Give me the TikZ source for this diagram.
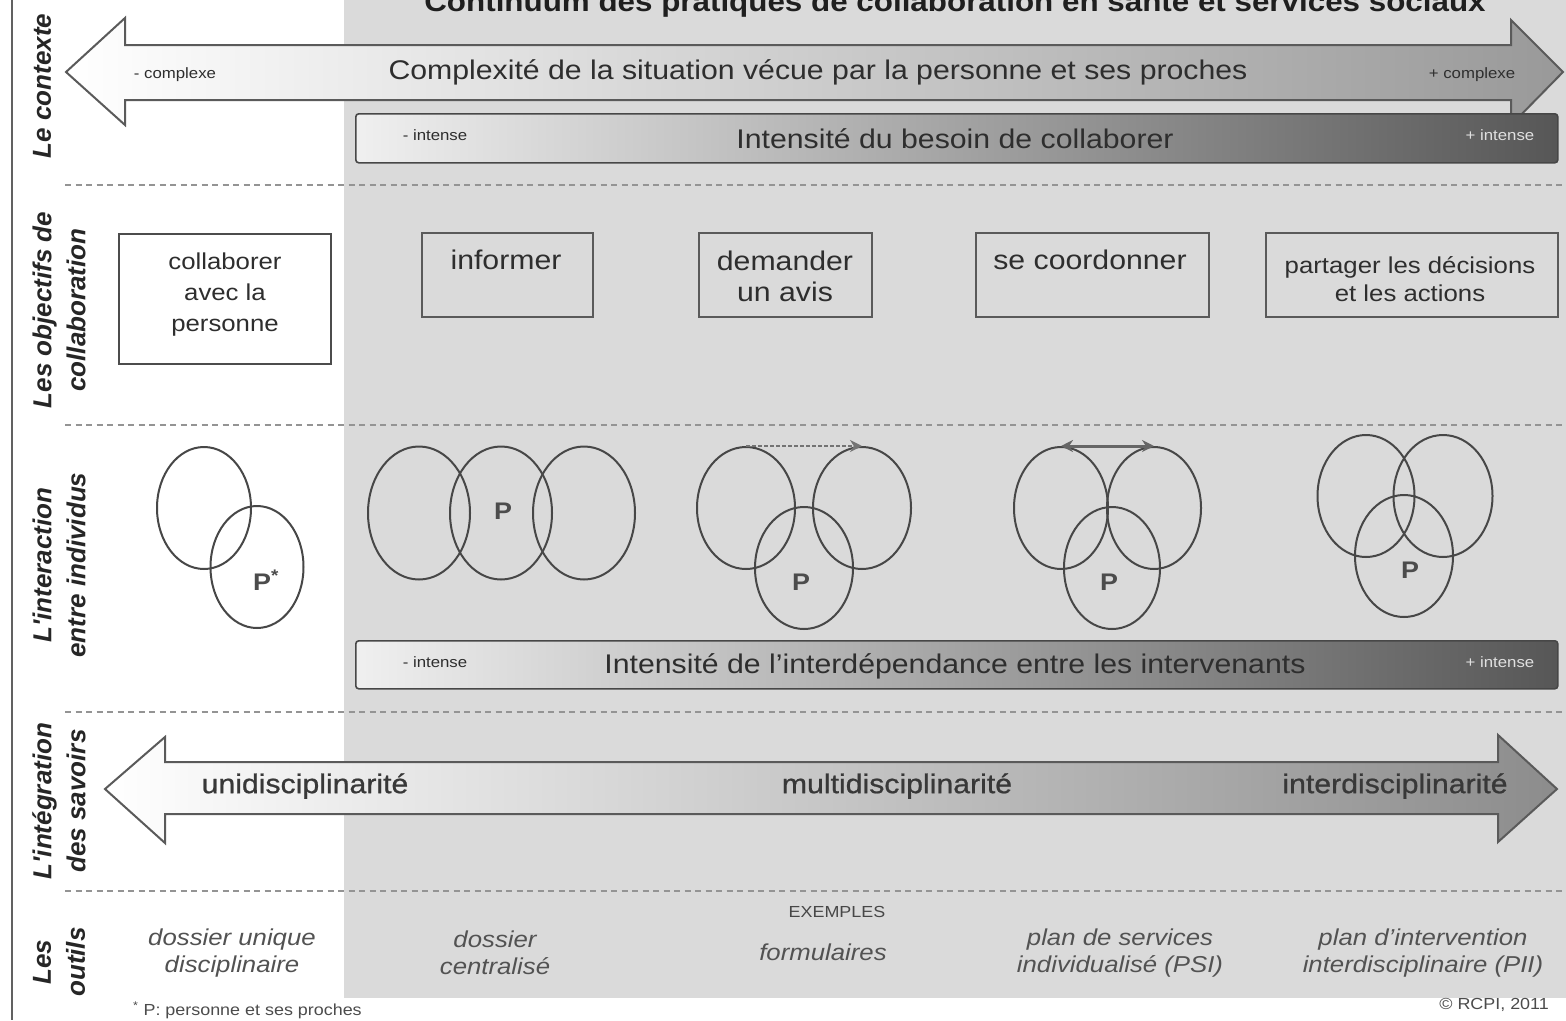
\documentclass[tikz,border=0pt]{standalone}
\usepackage{fontspec}
\setmainfont{Liberation Sans}[FakeStretch=1.12]
\newfontfamily\labelfont{Liberation Sans}
\newfontfamily\medfont{Liberation Sans}[FakeStretch=1.12,FakeBold=0.8]
\usetikzlibrary{arrows.meta,shapes.geometric}
\definecolor{bgray}{HTML}{DADADA}
\definecolor{txt}{HTML}{2E2E2E}
\definecolor{edge}{HTML}{5A5A5A}
\newcommand{\fsz}[2]{\fontsize{#1}{#2}\selectfont}
\begin{document}
\begin{tikzpicture}[x=1pt,y=-1pt,
  sepline/.style={draw=black!42, line width=2.6pt, dash pattern=on 6pt off 4.5pt},
  objbox/.style={draw=edge, line width=2pt, fill=bgray, anchor=north west, inner sep=0pt},
  objtxt/.style={font=\fsz{27}{31}, text=txt, align=center, inner sep=0pt},
  ell/.style={draw=black!72, line width=2pt, ellipse, inner sep=0pt},
  bigarrow/.style={draw=edge, line width=2pt},
  barbox/.style={draw=black!72, line width=1.6pt, rounded corners=3pt, anchor=north west, inner sep=0pt,
     left color=black!6, right color=black!66},
  bartxt/.style={font=\fsz{27}{32}, text=txt, inner sep=0pt},
  medtxt/.style={font=\medfont\fsz{27}{32}, text=black!78, inner sep=0pt},
  smalltxt/.style={font=\fsz{15}{18}, text=txt, inner sep=0pt},
  sidelab/.style={rotate=90, align=center, text=black!85, inner sep=0pt},
  tooltxt/.style={font=\fsz{23}{27}\itshape, text=black!68, align=center, inner sep=0pt},
  plab/.style={font=\fsz{24}{28}\bfseries, text=black!70, inner sep=0pt},
  tipstyle/.style={-{Stealth[length=12pt,width=12pt]}},
]
\useasboundingbox (0,0) rectangle (1566,1020);
\clip (0,0) rectangle (1566,1020);
\fill[white] (0,0) rectangle (1566,1020);
\fill[bgray] (344,0) rectangle (1566,998);
\draw[line width=2.5pt, black!62] (12,0) -- (12,1020);

% title (cut at top, as in the reference)
\node[anchor=base, font=\fsz{28}{32}\bfseries, text=black!88, inner sep=0pt] (title) at (955,11)
  {Continuum des pratiques de collaboration en santé et services sociaux};

% separators
\draw[sepline] (65,185) -- (1566,185);
\draw[sepline] (65,425) -- (1566,425);
\draw[sepline] (65,712) -- (1566,712);
\draw[sepline] (65,891) -- (1566,891);

% side labels
\node[sidelab, font=\labelfont\fsz{26}{34}\bfseries\itshape] (lab1) at (42,86) {Le contexte};
\node[sidelab, font=\labelfont\fsz{26}{34}\bfseries\itshape] (lab2) at (59,310)
  {Les objectifs de\\ collaboration};
\node[sidelab, font=\labelfont\fsz{26}{34}\bfseries\itshape] (lab3) at (59,565)
  {L'interaction\\ entre individus};
\node[sidelab, font=\labelfont\fsz{26}{34}\bfseries\itshape] (lab4) at (59,801)
  {L'intégration\\ des savoirs};
\node[sidelab, font=\labelfont\fsz{26}{34}\bfseries\itshape] (lab5) at (59,962)
  {Les\\ outils};

% top double arrow
\path[bigarrow, left color=white, right color=black!40]
  (66,72) -- (125,18) -- (125,45) -- (1511,45) -- (1511,20) -- (1563,72)
  -- (1511,125) -- (1511,100) -- (125,100) -- (125,125) -- cycle;
\node[smalltxt] (c1) at (175,75) {- complexe};
\node[bartxt] (c2) at (818,72) {Complexité de la situation vécue par la personne et ses proches};
\node[smalltxt] (c3) at (1472,75) {+ complexe};

% bar 1
\node[barbox, minimum width=1202pt, minimum height=49pt] (bar1) at (355,113) {};
\node[smalltxt] (b1a) at (435,135) {- intense};
\node[bartxt] (b1b) at (955,139) {Intensité du besoin de collaborer};
\node[smalltxt, text=black!12] (b1c) at (1500,135) {+ intense};

% objective boxes
\node[objbox, draw=black!70, fill=white, minimum width=212pt, minimum height=130pt] (o1) at (118,233) {};
\node[objtxt, font=\fsz{23}{31}] (o1t) at (225,295) {collaborer\\avec la\\personne};
\node[objbox, minimum width=171pt, minimum height=84pt] (o2) at (421,232) {};
\node[objtxt] (o2t) at (506,260) {informer};
\node[objbox, minimum width=173pt, minimum height=84pt] (o3) at (698,232) {};
\node[objtxt] (o3t) at (785,276) {demander\\un avis};
\node[objbox, minimum width=233pt, minimum height=84pt] (o4) at (975,232) {};
\node[objtxt] (o4t) at (1090,260) {se coordonner};
\node[objbox, minimum width=292pt, minimum height=84pt] (o5) at (1265,232) {};
\node[objtxt, font=\fsz{23}{28}] (o5t) at (1410,279) {partager les décisions\\et les actions};

% interaction ellipses
\node[ell, minimum width=94pt, minimum height=122pt] (e1a) at (204,508) {};
\node[ell, minimum width=93pt, minimum height=122pt] (e1b) at (257,567) {};
\node[plab] (p1) at (266,580) {P\textsuperscript{*}};

\node[ell, minimum width=102pt, minimum height=133pt] (e2a) at (419,513) {};
\node[ell, minimum width=102pt, minimum height=133pt] (e2b) at (501,513) {};
\node[ell, minimum width=102pt, minimum height=133pt] (e2c) at (584,513) {};
\node[plab] (p2) at (503,511) {P};

\node[ell, minimum width=98pt, minimum height=122pt] (e3a) at (746,508) {};
\node[ell, minimum width=98pt, minimum height=122pt] (e3b) at (862,508) {};
\node[ell, minimum width=98pt, minimum height=122pt] (e3c) at (804,568) {};
\node[plab] (p3) at (801,582) {P};
\draw[tipstyle, draw=black!55, line width=2pt, dash pattern=on 4pt off 2pt] (e3a.north) -- (e3b.north);

\node[ell, minimum width=94pt, minimum height=122pt] (e4a) at (1061,508) {};
\node[ell, minimum width=94pt, minimum height=122pt] (e4b) at (1154,508) {};
\node[ell, minimum width=96pt, minimum height=122pt] (e4c) at (1112,568) {};
\node[plab] (p4) at (1109,582) {P};
\draw[{Stealth[length=12pt,width=12pt]}-{Stealth[length=12pt,width=12pt]}, draw=black!60, line width=3pt] (e4a.north) -- (e4b.north);

\node[ell, minimum width=97pt, minimum height=122pt] (e5a) at (1366,496) {};
\node[ell, minimum width=99pt, minimum height=122pt] (e5b) at (1443,496) {};
\node[ell, minimum width=98pt, minimum height=122pt] (e5c) at (1404,556) {};
\node[plab] (p5) at (1410,570) {P};

% bar 2
\node[barbox, minimum width=1202pt, minimum height=48pt] (bar2) at (355,640) {};
\node[smalltxt] (b2a) at (435,662) {- intense};
\node[bartxt] (b2b) at (955,666) {Intensité de l'interdépendance entre les intervenants};
\node[smalltxt, text=black!12] (b2c) at (1500,662) {+ intense};

% bottom double arrow
\path[bigarrow, left color=white, right color=black!45]
  (105,789) -- (165,737) -- (165,762) -- (1498,762) -- (1498,735) -- (1557,789)
  -- (1498,842) -- (1498,814) -- (165,814) -- (165,843) -- cycle;
\node[medtxt] (d1) at (305,786) {unidisciplinarité};
\node[medtxt] (d2) at (897,786) {multidisciplinarité};
\node[medtxt] (d3) at (1395,786) {interdisciplinarité};

% tools
\node[font=\fsz{16}{19}, text=black!72, inner sep=0pt] (ex) at (837,912) {EXEMPLES};
\node[tooltxt] (t1) at (232,953) {dossier unique\\disciplinaire};
\node[tooltxt] (t2) at (495,953) {dossier\\centralisé};
\node[tooltxt] (t3) at (823,952) {formulaires};
\node[tooltxt] (t4) at (1120,953) {plan de services\\individualisé (PSI)};
\node[tooltxt] (t5) at (1423,953) {plan d'intervention\\interdisciplinaire (PII)};

% footnotes
\node[anchor=west, font=\fsz{16}{19}, text=black!70, inner sep=0pt] (fn) at (133,1010)
  {\textsuperscript{*} P: personne et ses proches};
\node[anchor=east, font=\fsz{16}{19}, text=black!70, inner sep=0pt] (cp) at (1549,1005) {© RCPI, 2011};
\end{tikzpicture}
\end{document}
